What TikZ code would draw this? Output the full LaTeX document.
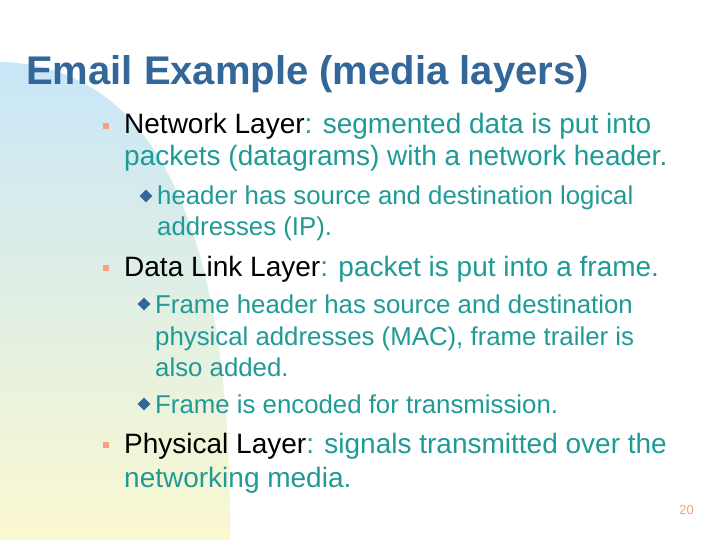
\documentclass[tikz,border=0pt]{standalone}
\usepackage{fontspec}
\setmainfont{Liberation Sans}
\begin{document}
\begin{tikzpicture}[x=1pt,y=-1pt,
  main/.style={anchor=base west,inner sep=0pt,font=\fontsize{28}{28}\selectfont},
  sub/.style={anchor=base west,inner sep=0pt,font=\fontsize{25.8}{25.8}\selectfont,text=teal2},
  sq/.style={fill=bul1,minimum size=6pt,inner sep=0pt},
  dm/.style={fill=bul2,shape=rectangle,rotate=45,minimum size=9pt,inner sep=0pt}]
\definecolor{titlec}{HTML}{336699}
\definecolor{teal2}{HTML}{1F9A96}
\definecolor{bul1}{HTML}{F7A07A}
\definecolor{bul2}{HTML}{336699}
\definecolor{blobtop}{HTML}{C8E6F8}
\definecolor{blobbot}{HTML}{FAF8D0}
\useasboundingbox (0,0) rectangle (720,540);
\fill[white] (0,0) rectangle (720,540);
\shade[top color=blobtop,bottom color=blobbot] (0,62) .. controls (170,66) and (232,260) .. (230,540) -- (0,540) -- cycle;
\node[anchor=base west,inner sep=0pt,font=\fontsize{40}{40}\selectfont\bfseries,text=titlec] (title) at (26,85) {Email Example (media layers)};
\node[sq] (b1) at (106,126) {};
\node[main] (t1a) at (124,134) {Network Layer\textcolor{teal2}{: segmented data is put into}};
\node[main,text=teal2] (t1b) at (124,166) {packets (datagrams) with a network header.};
\node[dm] (d1) at (146,196) {};
\node[sub] (s1a) at (157,205) {header has source and destination logical};
\node[sub] (s1b) at (157,236) {addresses (IP).};
\node[sq] (b2) at (106,268) {};
\node[main] (t2) at (124,276) {Data Link Layer\textcolor{teal2}{: packet is put into a frame.}};
\node[dm] (d2) at (144,304) {};
\node[sub] (s2a) at (155,313) {Frame header has source and destination};
\node[sub] (s2b) at (155,345) {physical addresses (MAC), frame trailer is};
\node[sub] (s2c) at (155,376) {also added.};
\node[dm] (d3) at (144,404) {};
\node[sub] (s3) at (155,413) {Frame is encoded for transmission.};
\node[sq] (b3) at (106,445) {};
\node[main] (t3a) at (124,453) {Physical Layer\textcolor{teal2}{: signals transmitted over the}};
\node[main,text=teal2] (t3b) at (124,487) {networking media.};
\node[anchor=east,inner sep=0pt,font=\fontsize{13}{13}\selectfont,text=bul1] (num) at (694,510) {20};
\end{tikzpicture}
\end{document}
